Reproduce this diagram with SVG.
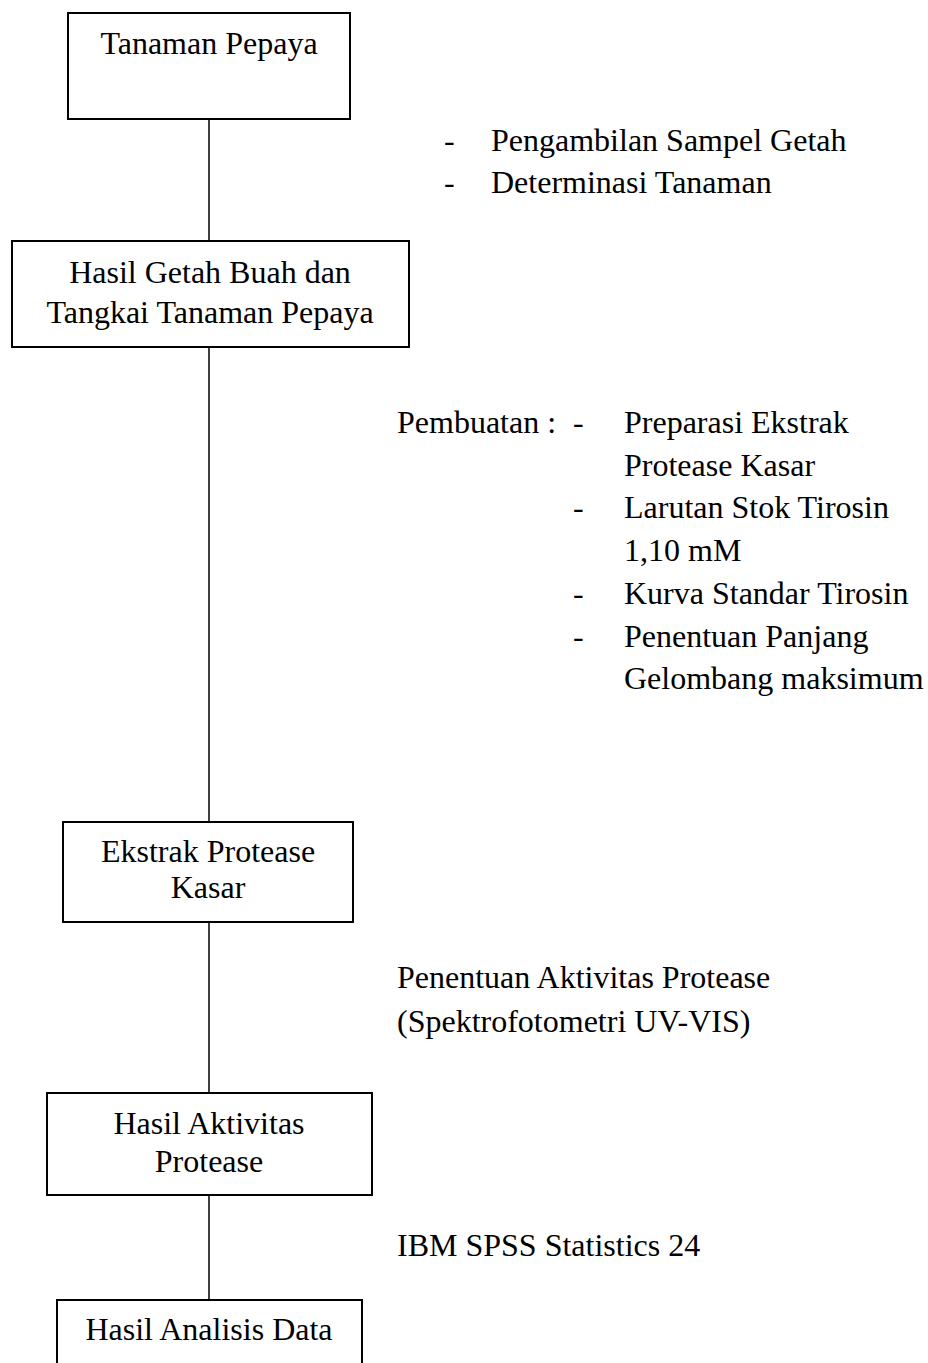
<svg xmlns="http://www.w3.org/2000/svg" width="928" height="1363" viewBox="0 0 928 1363">
<style>
.box{fill:#fff;stroke:#000;stroke-width:2}
.ln{stroke:#000;stroke-width:1.5;fill:none}
text{font-family:"Liberation Serif","Times New Roman",serif;font-size:32px;fill:#000}
.c{text-anchor:middle}
</style>
<rect width="928" height="1363" fill="#fff"/>
<g id="connectors">
<line class="ln" x1="209" y1="119" x2="209" y2="241"/>
<line class="ln" x1="209" y1="347" x2="209" y2="822"/>
<line class="ln" x1="209" y1="922" x2="209" y2="1093"/>
<line class="ln" x1="209" y1="1195" x2="209" y2="1300"/>
</g>
<g id="n1">
<rect class="box" x="68" y="13" width="282" height="106"/>
<text class="c" x="209" y="54">Tanaman Pepaya</text>
</g>
<g id="n2">
<rect class="box" x="12" y="241" width="397" height="106"/>
<text class="c" x="210" y="283">Hasil Getah Buah dan</text>
<text class="c" x="210" y="323">Tangkai Tanaman Pepaya</text>
</g>
<g id="n3">
<rect class="box" x="63" y="822" width="290" height="100"/>
<text class="c" x="208" y="862">Ekstrak Protease</text>
<text class="c" x="208" y="898">Kasar</text>
</g>
<g id="n4">
<rect class="box" x="47" y="1093" width="325" height="102"/>
<text class="c" x="209" y="1134">Hasil Aktivitas</text>
<text class="c" x="209" y="1172">Protease</text>
</g>
<g id="n5">
<rect class="box" x="57" y="1300" width="305" height="80"/>
<text class="c" x="209" y="1340">Hasil Analisis Data</text>
</g>
<g id="labels">
<text x="444" y="151">-</text>
<text x="491" y="151">Pengambilan Sampel Getah</text>
<text x="444" y="193">-</text>
<text x="491" y="193">Determinasi Tanaman</text>
<text x="397" y="433">Pembuatan :</text>
<text x="573" y="433">-</text>
<text x="624" y="433">Preparasi Ekstrak</text>
<text x="624" y="476">Protease Kasar</text>
<text x="573" y="518">-</text>
<text x="624" y="518">Larutan Stok Tirosin</text>
<text x="624" y="561">1,10 mM</text>
<text x="573" y="604">-</text>
<text x="624" y="604">Kurva Standar Tirosin</text>
<text x="573" y="647">-</text>
<text x="624" y="647">Penentuan Panjang</text>
<text x="624" y="689">Gelombang maksimum</text>
<text x="397" y="988">Penentuan Aktivitas Protease</text>
<text x="397" y="1032">(Spektrofotometri UV-VIS)</text>
<text x="397" y="1256">IBM SPSS Statistics 24</text>
</g>
</svg>
